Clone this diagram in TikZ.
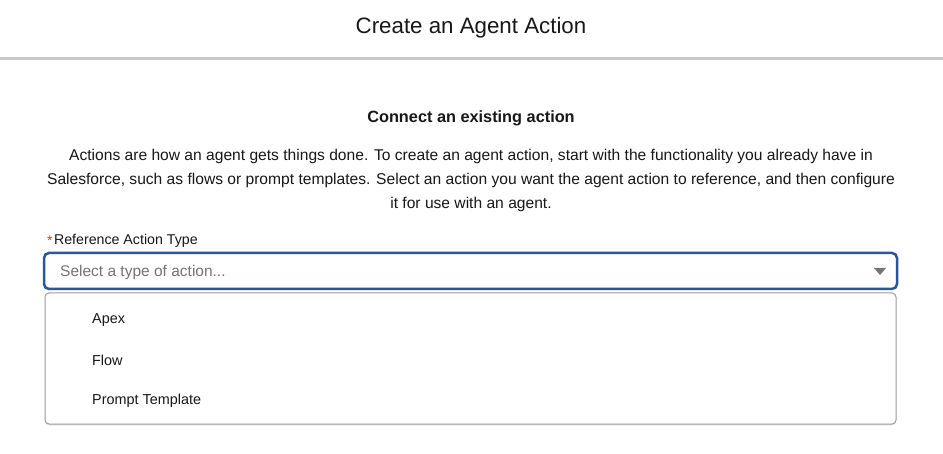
\documentclass[tikz,border=0pt]{standalone}
\usepackage{fontspec}
\setmainfont{Liberation Sans}
\usetikzlibrary{positioning,shadows}

\definecolor{ink}{HTML}{181818}
\definecolor{rule}{HTML}{C9C9C9}
\definecolor{focus}{HTML}{2F5596}
\definecolor{hint}{HTML}{747474}
\definecolor{edge}{HTML}{9A9A9A}
\definecolor{req}{HTML}{C23934}

\begin{document}
\begin{tikzpicture}[x=1pt,y=-1pt,
    txt/.style={inner sep=0pt,text=ink,font=\fontsize{15.6}{24}\selectfont},
    item/.style={txt,anchor=west,font=\fontsize{14.4}{16}\selectfont}]
      \useasboundingbox[fill=white] (0,0) rectangle (943,454);

      \node[txt,font=\fontsize{22.3}{26}\selectfont] (title) at (471,28) {Create an Agent Action};
      \draw[rule,line width=3pt] (0,59) -- (943,59);

      \node[txt,font=\bfseries\fontsize{16.3}{18}\selectfont] (head) at (471,118) {Connect an existing action};
      \node[txt,align=center] (intro) at (471,180)
        {Actions are how an agent gets things done. To create an agent action, start with the functionality you already have in\\
         Salesforce, such as flows or prompt templates. Select an action you want the agent action to reference, and then configure\\
         it for use with an agent.};

      \node[txt,anchor=west,text=req,font=\fontsize{14}{14}\selectfont] (star) at (47,241) {*};
      \node[item,right=1pt of star,font=\fontsize{14.2}{16}\selectfont] (label) {Reference Action Type};

      \draw[edge,fill=white,line width=1pt,rounded corners=4pt,drop shadow={opacity=0.15,shadow xshift=0pt,shadow yshift=-1.5pt}]
        (45,293) rectangle (896,424);
      \draw[focus,fill=white,line width=2.5pt,rounded corners=5pt] (44,253) rectangle (897,289);
      \node[item,text=hint,font=\fontsize{15.5}{16}\selectfont] (select) at (60,272) {Select a type of action...};
      \fill[hint] (874,268) -- (886,268) -- (880,275) -- cycle;

      \node[item] (apex)   at (92,320) {Apex};
      \node[item] (flow)   at (92,360) {Flow};
      \node[item] (prompt) at (92,401) {Prompt Template};
    \end{tikzpicture}
\end{document}
